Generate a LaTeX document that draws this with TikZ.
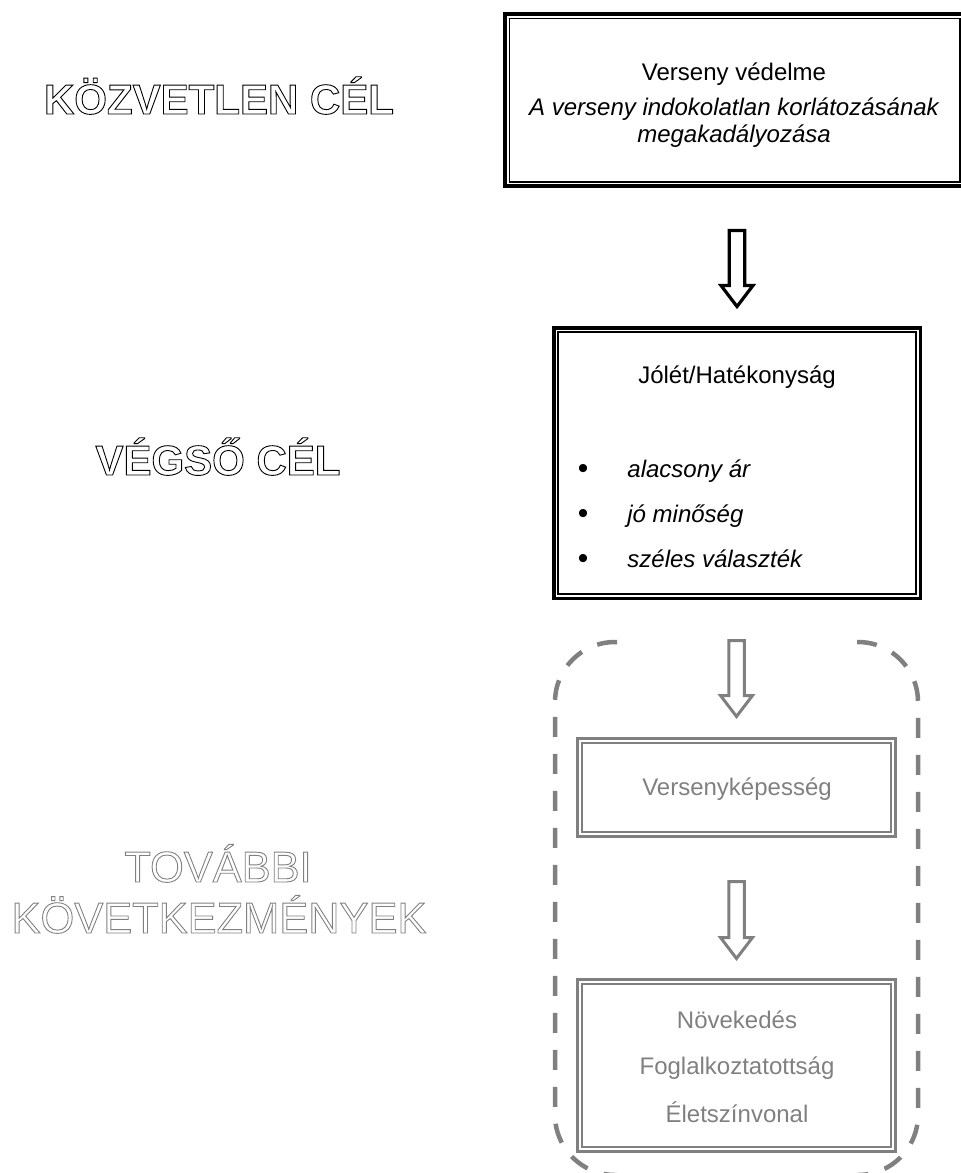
\documentclass[tikz,border=0pt]{standalone}
\usepackage{fontspec}
\setmainfont{Liberation Sans}
\usetikzlibrary{calc}
\definecolor{midgray}{HTML}{808080}

% hollow (outlined) lettering: text render mode 1 = stroke only
\newcommand\outlined[2][0.45]{\special{pdf:literal direct #1 w 1 Tr}#2\special{pdf:literal direct 0 Tr}}

% hollow block arrow pointing down from #2 to #3
\newcommand\blockarrow[3]{%
  \path[#1] let \p1=(#2), \p2=(#3) in
    (\x1-3.875pt,\y1) -- (\x1+3.875pt,\y1) -- (\x1+3.875pt,\y2+10.5pt) --
    (\x1+8pt,\y2+10.5pt) -- (\x1,\y2) -- (\x1-8pt,\y2+10.5pt) --
    (\x1-3.875pt,\y2+10.5pt) -- cycle;}

\tikzset{
  txt/.style={inner sep=0pt, anchor=base, font=\fontsize{12}{13.8}\selectfont},
  graytxt/.style={txt, text=midgray},
  itxt/.style={txt, font=\fontsize{12}{13.8}\selectfont\itshape},
  bullet/.style={txt, font=\fontsize{15}{16}\selectfont},
  biglabel/.style={inner sep=0pt, anchor=base, font=\fontsize{21}{24}\selectfont\bfseries},
  graylabel/.style={inner sep=0pt, anchor=base, text=midgray, font=\fontsize{21.7}{24}\selectfont},
  frameblack/.style={draw=black, line width=1.75pt, inner sep=0pt},
  framegray/.style={draw=midgray, line width=1.5pt, inner sep=0pt},
  innerblack/.style={draw=black, line width=0.75pt},
  innergray/.style={draw=midgray, line width=0.75pt},
  dashframe/.style={draw=midgray, line width=2.25pt, dash pattern=on 10pt off 8.5pt,
                    rounded corners=30pt},
  arrowblack/.style={draw=black, line width=1.6pt, fill=white, miter limit=10},
  arrowgray/.style={draw=midgray, line width=1.5pt, fill=white, miter limit=10},
}

\begin{document}
\begin{tikzpicture}[x=0.5pt, y=-0.5pt]
\useasboundingbox (0,0) rectangle (961,1173);
\clip (0,0) rectangle (961,1173);

% ---- left column labels ----
\node[biglabel] (lvl1) at (219,114) {\outlined{KÖZVETLEN CÉL}};
\node[biglabel] (lvl2) at (218,475) {\outlined{VÉGSŐ CÉL}};
\node[graylabel] (lvl3a) at (218,882) {\outlined{TOVÁBBI}};
\node[graylabel] (lvl3b) at (219,933) {\outlined{KÖVETKEZMÉNYEK}};

% ---- immediate goal ----
\node[frameblack, minimum width=229.5pt, minimum height=86pt] (top) at (734.5,100) {};
\draw[innerblack] ([shift={(3pt,-3pt)}]top.north west) rectangle ([shift={(-3pt,3pt)}]top.south east);
\node[txt]  (topt1) at (734,80)  {Verseny védelme};
\node[itxt] (topt2) at (734,115) {A verseny indokolatlan korlátozásának};
\node[itxt] (topt3) at (734,142) {megakadályozása};

% ---- final goal ----
\node[frameblack, minimum width=183.25pt, minimum height=135.25pt] (jolet) at (737,463) {};
\draw[innerblack] ([shift={(3pt,-3pt)}]jolet.north west) rectangle ([shift={(-3pt,3pt)}]jolet.south east);
\node[txt] (jolett) at (737,383) {Jólét/Hatékonyság};
\node[bullet] (b1) at (583,478) {•};
\node[bullet] (b2) at (583,523) {•};
\node[bullet] (b3) at (583,568) {•};
\node[itxt, anchor=base west] (i1) at (627,477) {alacsony ár};
\node[itxt, anchor=base west] (i2) at (627,522) {jó minőség};
\node[itxt, anchor=base west] (i3) at (627,567) {széles választék};

% ---- further consequences ----
\node[framegray, minimum width=159pt, minimum height=49pt] (vkep) at (736.5,787.5) {};
\draw[innergray] ([shift={(3.1pt,-3.1pt)}]vkep.north west) rectangle ([shift={(-3.1pt,3.1pt)}]vkep.south east);
\node[graytxt] (vkept) at (737,795) {Versenyképesség};

\node[framegray, minimum width=159pt, minimum height=86pt] (nov) at (736.5,1065.5) {};
\draw[innergray] ([shift={(3.1pt,-3.1pt)}]nov.north west) rectangle ([shift={(-3.1pt,3.1pt)}]nov.south east);
\node[graytxt] (novt1) at (737,1028) {Növekedés};
\node[graytxt] (novt2) at (737,1074) {Foglalkoztatottság};
\node[graytxt] (novt3) at (737,1122) {Életszínvonal};

% dashed bracket frame around the consequences
\draw[dashframe] (617,642) -- (555,642) -- (555,1175) -- (617,1175);
\draw[dashframe] (857,642) -- (918,642) -- (918,1175) -- (857,1175);

% ---- arrows ----
\coordinate (a1e) at ($(jolet.north)+(0,-19.5)$);
\coordinate (a1s) at ($(a1e)+(0,-76)$);
\blockarrow{arrowblack}{a1s}{a1e}

\coordinate (a2e) at ($(vkep.north)+(0,-20.5)$);
\coordinate (a2s) at ($(a2e)+(0,-76)$);
\blockarrow{arrowgray}{a2s}{a2e}

\coordinate (a3e) at ($(nov.north)+(0,-19.5)$);
\coordinate (a3s) at ($(a3e)+(0,-77)$);
\blockarrow{arrowgray}{a3s}{a3e}
\end{tikzpicture}
\end{document}
